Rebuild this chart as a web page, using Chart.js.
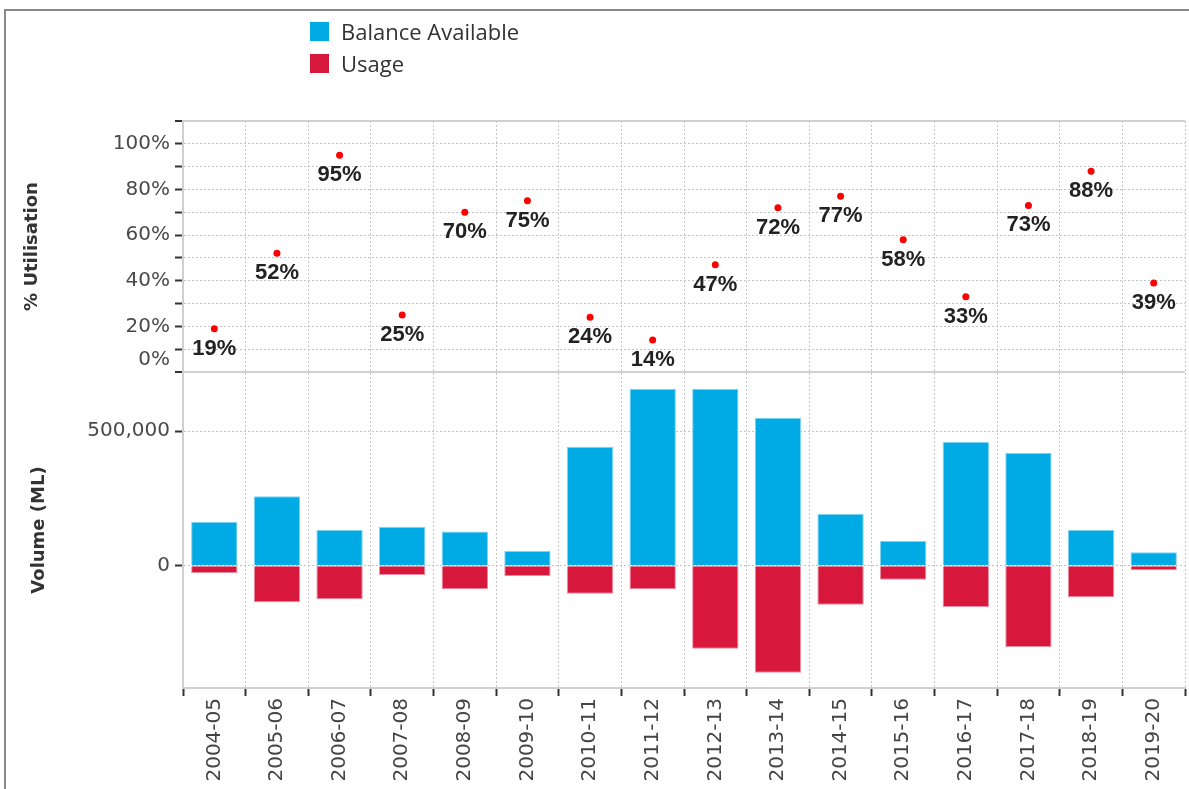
<!DOCTYPE html>
<html>
<head>
<meta charset="utf-8">
<title>Balance Available and Usage</title>
<script src="https://cdn.jsdelivr.net/npm/chart.js@4.4.1/dist/chart.umd.min.js"></script>
<style>
  html, body { margin: 0; padding: 0; background: #fff; }
  #wrap { position: relative; width: 1189px; height: 789px; overflow: hidden; }
  #frame { position: absolute; left: 4px; top: 9px; right: -10px; bottom: -10px;
           border-left: 2px solid #8a8a8a; border-top: 2px solid #8a8a8a; pointer-events: none; }
  #legend { position: absolute; left: 310px; top: 15px; font-family: 'Open Sans', sans-serif;
            font-size: 22px; color: #333; }
  .item { display: flex; align-items: center; height: 32px; }
  .swatch { width: 19px; height: 19px; margin-right: 12px; }
</style>
</head>
<body>
<div id="wrap">
  <canvas id="chart" width="1189" height="789"></canvas>
  <div id="legend"></div>
  <div id="frame"></div>
</div>
<script>
const seasons = ['2004-05', '2005-06', '2006-07', '2007-08', '2008-09', '2009-10', '2010-11', '2011-12',
  '2012-13', '2013-14', '2014-15', '2015-16', '2016-17', '2017-18', '2018-19', '2019-20'];
// ML
const balanceAvailable = [163000, 258000, 133000, 145000, 127000, 55000, 442000, 658000,
  658000, 550000, 192000, 92000, 460000, 420000, 133000, 50000];
const usage = [27000, 135000, 124000, 34000, 87000, 38000, 104000, 87000,
  308000, 397000, 145000, 52000, 153000, 302000, 117000, 17000];
// %
const utilisation = [19, 52, 95, 25, 70, 75, 24, 14, 47, 72, 77, 58, 33, 73, 88, 39];

const pctGridTicks = [0, 10, 20, 30, 40, 50, 60, 70, 80, 90, 100, 110];
const pctLabelledTicks = [0, 20, 40, 60, 80, 100];
const volLabelledTicks = [0, 500000];

const blue = '#00aae4';
const red = '#d8173c';

// percentage labels under each red dot
const pointLabels = {
  id: 'pointLabels',
  afterDatasetsDraw(chart) {
    const meta = chart.getDatasetMeta(2);
    const ctx = chart.ctx;
    ctx.save();
    ctx.font = 'bold 22px "Liberation Sans", Arial, sans-serif';
    ctx.fillStyle = '#222';
    ctx.textAlign = 'center';
    ctx.textBaseline = 'middle';
    meta.data.forEach((pt, i) => {
      ctx.fillText(utilisation[i] + '%', pt.x, pt.y + 20);
    });
    ctx.restore();
  }
};

Chart.defaults.font.family = '"DejaVu Sans", sans-serif';

const gridDash = [2, 2];
const isEdge = ctx => ctx.tick && (ctx.tick.value === 0 || ctx.tick.value === 110);

const chart = new Chart(document.getElementById('chart'), {
  type: 'bar',
  data: {
    labels: seasons,
    datasets: [
      {
        label: 'Balance Available',
        data: balanceAvailable,
        backgroundColor: blue,
        borderColor: '#7fd3f1',
        borderWidth: 1,
        yAxisID: 'yVol',
        grouped: false,
        categoryPercentage: 1,
        barPercentage: 0.74
      },
      {
        label: 'Usage',
        data: usage.map(v => -v),
        backgroundColor: red,
        borderColor: '#ec8ba0',
        borderWidth: 1,
        yAxisID: 'yVol',
        grouped: false,
        categoryPercentage: 1,
        barPercentage: 0.74
      },
      {
        type: 'line',
        label: '% Utilisation',
        data: utilisation,
        yAxisID: 'yPct',
        showLine: false,
        pointRadius: 3.5,
        pointBorderWidth: 0,
        pointBackgroundColor: '#ff0000'
      }
    ]
  },
  options: {
    responsive: false,
    animation: false,
    devicePixelRatio: 1,
    layout: { padding: { top: 121, right: 0, bottom: 0, left: 0 } },
    plugins: {
      legend: { display: false },
      tooltip: { enabled: false }
    },
    scales: {
      x: {
        type: 'category',
        offset: true,
        grid: { offset: true, color: '#c4c4c4', tickColor: '#333', tickWidth: 2, tickLength: 8, tickBorderDash: [] },
        border: { display: true, color: '#d0d0d0', width: 2, dash: gridDash },
        ticks: { minRotation: 90, maxRotation: 90, autoSkip: false, padding: 2, color: '#444', font: { size: 20 } },
        afterFit: s => { s.height = 101; }
      },
      yVol: {
        type: 'linear',
        position: 'left',
        stack: 'panels',
        stackWeight: 316,
        min: -454000,
        max: 720000,
        grid: { color: '#c4c4c4', tickColor: '#333', tickWidth: 2, tickLength: 8, tickBorderDash: [] },
        border: { display: true, color: '#d0d0d0', width: 2, dash: gridDash },
        ticks: {
          autoSkip: false,
          padding: 5,
          color: '#4a4a4a',
          font: { size: 20 },
          callback: v => v.toLocaleString('en-US')
        },
        afterBuildTicks: s => { s.ticks = volLabelledTicks.map(v => ({ value: v })); },
        title: { display: true, text: 'Volume (ML)', color: '#333', font: { size: 18, weight: 'bold' }, padding: { top: 29, bottom: 0 } },
        afterFit: s => { s.width = 183; }
      },
      yPct: {
        type: 'linear',
        position: 'left',
        stack: 'panels',
        stackWeight: 251,
        min: 0,
        max: 110,
        grid: { color: ctx => isEdge(ctx) ? '#d0d0d0' : '#c4c4c4',
                lineWidth: ctx => isEdge(ctx) ? 2 : 1,
                tickColor: '#333', tickWidth: 2, tickLength: 8, tickBorderDash: [] },
        border: { display: true, color: '#d0d0d0', width: 2,
                  dash: ctx => isEdge(ctx) ? [] : gridDash },
        ticks: {
          autoSkip: false,
          padding: 5,
          color: '#4a4a4a',
          font: { size: 20 },
          callback: v => {
            if (!pctLabelledTicks.includes(v)) return '';
            return v === 0 ? [v + '%', ''] : v + '%';
          }
        },
        afterBuildTicks: s => { s.ticks = pctGridTicks.map(v => ({ value: v })); },
        title: { display: true, text: '% Utilisation', color: '#333', font: { size: 18, weight: 'bold' }, padding: { top: 22, bottom: 0 } },
        afterFit: s => { s.width = 183; }
      }
    }
  },
  plugins: [pointLabels]
});

// legend for the two bar series
const legend = document.getElementById('legend');
chart.data.datasets.slice(0, 2).forEach(ds => {
  const item = document.createElement('div');
  item.className = 'item';
  const sw = document.createElement('span');
  sw.className = 'swatch';
  sw.style.background = ds.backgroundColor;
  const txt = document.createElement('span');
  txt.textContent = ds.label;
  item.appendChild(sw);
  item.appendChild(txt);
  legend.appendChild(item);
});
</script>
</body>
</html>
